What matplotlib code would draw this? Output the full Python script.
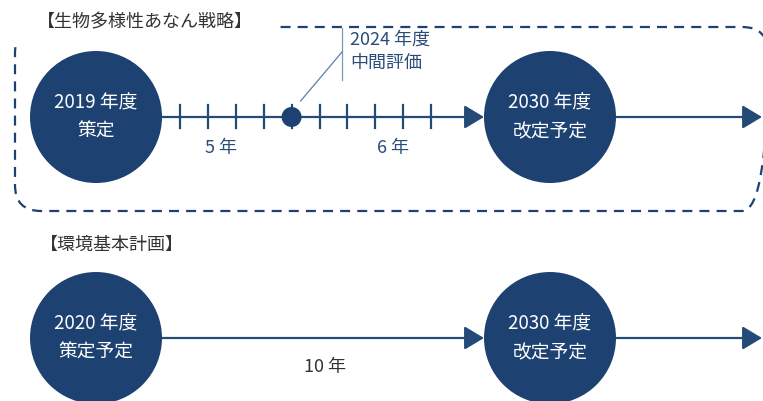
import matplotlib
matplotlib.use("Agg")
import matplotlib.pyplot as plt
from matplotlib.patches import Circle, FancyBboxPatch, Rectangle, FancyArrowPatch

plt.rcParams['font.family'] = ['Noto Sans CJK JP', 'DejaVu Sans']

# --- データ ---
strategy_title = "【生物多様性あなん戦略】"
strategy_milestones = ["2019 年度\n策定", "2030 年度\n改定予定"]
midterm_year = 2024
midterm_label = "2024 年度\n中間評価"
tick_years = [2020, 2021, 2022, 2023, 2024, 2025, 2026, 2027, 2028, 2029]
strategy_spans = ["5 年", "6 年"]

plan_title = "【環境基本計画】"
plan_milestones = ["2020 年度\n策定予定", "2030 年度\n改定予定"]
plan_spans = ["10 年"]

# --- レイアウト (ピクセル単位) ---
W, H = 763, 401
NAVY = "#1d4272"
LINE = "#244a78"
TXT = "#2a4d78"
row_y = [117, 338]
circle_x = [96, 550]
circle_r = 66
year_x0, year_dx = 180, 27.9   # 2020 の目盛り位置と 1 年の幅
span_x = [221, 393]


def year_to_x(y):
    return year_x0 + (y - tick_years[0]) * year_dx


fig = plt.figure(figsize=(W / 100, H / 100), dpi=100)
ax = fig.add_axes([0, 0, 1, 1])
ax.set_xlim(0, W)
ax.set_ylim(H, 0)
ax.axis('off')

# 点線の枠（左上はタイトルで隠れる）
box = FancyBboxPatch((15, 27), 753, 184, boxstyle="round,pad=0,rounding_size=26",
                     fill=False, ec=NAVY, lw=1.6, ls=(0, (4.5, 3.2)), zorder=1)
ax.add_patch(box)
ax.add_patch(Rectangle((0, 0), 277, 43, fc="white", ec="none", zorder=2))
ax.text(37, 22, strategy_title, fontsize=13, color="#333333", va="center", ha="left", zorder=3)
ax.text(40, 245, plan_title, fontsize=13, color="#333333", va="center", ha="left", zorder=3)


def arrow(x0, x1, y):
    ax.add_patch(FancyArrowPatch((x0, y), (x1, y), arrowstyle="-|>,head_length=0.75,head_width=0.45",
                                 mutation_scale=16, color=LINE, lw=1.6, shrinkA=0, shrinkB=0, zorder=3))


for row, labels in enumerate([strategy_milestones, plan_milestones]):
    y = row_y[row]
    arrow(circle_x[0] + circle_r, circle_x[1] - circle_r, y)
    arrow(circle_x[1] + circle_r, W - 1, y)
    for cx, lab in zip(circle_x, labels):
        ax.add_patch(Circle((cx, y), circle_r, fc=NAVY, ec="none", zorder=4))
        ax.text(cx, y, lab, color="white", fontsize=13.5, ha="center", va="center",
                linespacing=1.5, zorder=5)

# 年ごとの目盛り
for yr in tick_years:
    xx = year_to_x(yr)
    ax.plot([xx, xx], [row_y[0] - 12, row_y[0] + 11], color=LINE, lw=1.6, zorder=3)

# 中間評価の点と注記
mx = year_to_x(midterm_year)
ax.add_patch(Circle((mx, row_y[0]), 10, fc=NAVY, ec="none", zorder=5))
ax.plot([342, 342], [28, 80], color="#7b97b8", lw=0.9, zorder=3)
ax.plot([342, mx + 9], [52, row_y[0] - 16], color="#5b7fa8", lw=0.9, zorder=3)
ax.text(350, 51, midterm_label, fontsize=13, color=TXT, ha="left", va="center",
        linespacing=1.4, zorder=3)

# 期間ラベル
for sx, lab in zip(span_x, strategy_spans):
    ax.text(sx, 148, lab, fontsize=13, color=TXT, ha="center", va="center")
ax.text(325, 367, plan_spans[0], fontsize=13, color="#333333", ha="center", va="center")

fig.savefig("out.png", dpi=100)
